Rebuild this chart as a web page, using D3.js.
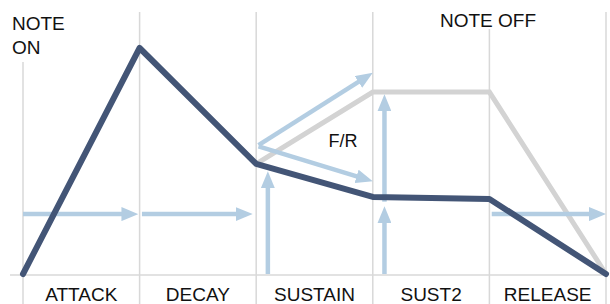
<!DOCTYPE html>
<html>
<head>
<meta charset="utf-8">
<script src="https://cdn.jsdelivr.net/npm/d3@7"></script>
<style>
  html, body { margin: 0; padding: 0; background: #fff; }
  text { font-family: "Liberation Sans", Arial, Helvetica, sans-serif; fill: #111; }
</style>
</head>
<body>
<svg id="chart" width="610" height="304"></svg>
<script>
// envelope stages (columns between the boundaries 0..5)
const stages = ['ATTACK', 'DECAY', 'SUSTAIN', 'SUST2', 'RELEASE'];
const boundaries = [0, 1, 2, 3, 4, 5];
const boundaryTops = [62, 12, 12, 12, 29, 12];

// main envelope (x in stage units, level 0..100)
const envX = [0, 1, 2, 3, 4, 5];
const envLevel = [0, 100, 48.7, 34.1, 33.2, 0];

// note-off / F/R alternative envelope
const altX = [2, 3, 4, 5];
const altLevel = [48.7, 80.5, 80.5, 0];

// light-blue arrows: [x1, level1, x2, level2]
const arrows = [
  [0.0, 26.5, 0.99, 26.5],
  [1.02, 26.5, 1.97, 26.5],
  [4.02, 26.5, 5.0, 26.5],
  [2.1, 0, 2.1, 45.5],
  [3.1, 0, 3.1, 30],
  [3.1, 32, 3.1, 79.5],
  [2.02, 57, 3.0, 89],
  [2.02, 56.5, 3.0, 41]
];

const W = 610, H = 304;
const svg = d3.select('#chart');

const x = d3.scaleLinear().domain([0, 5]).range([23, 606]);
const y = d3.scaleLinear().domain([0, 100]).range([274, 48]);

const grid = '#d8d8d8';
const dark = '#435576';
const grey = '#d3d3d3';
const blue = '#b3cde2';
const HEAD_L = 17;
const HEAD_W = 14;
const TRIM = 10;

// grid
svg.append('g')
  .selectAll('line')
  .data(boundaries)
  .join('line')
  .attr('x1', d => x(d)).attr('x2', d => x(d))
  .attr('y1', (d, i) => boundaryTops[i]).attr('y2', H)
  .attr('stroke', grid).attr('stroke-width', 1.5);

svg.append('line')
  .attr('x1', 10).attr('x2', x(5))
  .attr('y1', y(0) + 1).attr('y2', y(0) + 1)
  .attr('stroke', grid).attr('stroke-width', 1.5);

// arrow marker, tip lands on the arrow's true end
svg.append('defs').append('marker')
  .attr('id', 'head')
  .attr('markerUnits', 'userSpaceOnUse')
  .attr('markerWidth', HEAD_L).attr('markerHeight', HEAD_W)
  .attr('viewBox', `0 0 ${HEAD_L} ${HEAD_W}`)
  .attr('refX', HEAD_L - TRIM).attr('refY', HEAD_W / 2)
  .attr('orient', 'auto')
  .append('path')
  .attr('d', `M0,0 L${HEAD_L},${HEAD_W / 2} L0,${HEAD_W} Z`)
  .attr('fill', blue);

const line = d3.line().x(d => x(d[0])).y(d => y(d[1]));

// grey alternative
svg.append('path')
  .datum(altX.map((d, i) => [d, altLevel[i]]))
  .attr('d', line)
  .attr('fill', 'none')
  .attr('stroke', grey)
  .attr('stroke-width', 5);

// arrows
const trimmed = d => {
  const dx = x(d[2]) - x(d[0]), dy = y(d[3]) - y(d[1]);
  const len = Math.hypot(dx, dy);
  return [x(d[2]) - dx / len * TRIM, y(d[3]) - dy / len * TRIM];
};

svg.append('g')
  .selectAll('line')
  .data(arrows)
  .join('line')
  .attr('x1', d => x(d[0])).attr('y1', d => y(d[1]))
  .attr('x2', d => trimmed(d)[0])
  .attr('y2', d => trimmed(d)[1])
  .attr('stroke', blue)
  .attr('stroke-width', 4.5)
  .attr('marker-end', 'url(#head)');

// main envelope
svg.append('path')
  .datum(envX.map((d, i) => [d, envLevel[i]]))
  .attr('d', line)
  .attr('fill', 'none')
  .attr('stroke', dark)
  .attr('stroke-width', 6)
  .attr('stroke-linejoin', 'round')
  .attr('stroke-linecap', 'round');

// labels
svg.append('g')
  .selectAll('text')
  .data(stages)
  .join('text')
  .attr('x', (d, i) => x(i + 0.5))
  .attr('y', 301)
  .attr('text-anchor', 'middle')
  .attr('font-size', 19)
  .text(d => d);

const noteOn = svg.append('text').attr('font-size', 19);
noteOn.append('tspan').attr('x', 12).attr('y', 30).text('NOTE');
noteOn.append('tspan').attr('x', 12).attr('y', 54).text('ON');

svg.append('text')
  .attr('x', 488).attr('y', 27)
  .attr('text-anchor', 'middle')
  .attr('font-size', 19)
  .text('NOTE OFF');

svg.append('text')
  .attr('x', 343).attr('y', 147)
  .attr('text-anchor', 'middle')
  .attr('font-size', 18)
  .text('F/R');
</script>
</body>
</html>
